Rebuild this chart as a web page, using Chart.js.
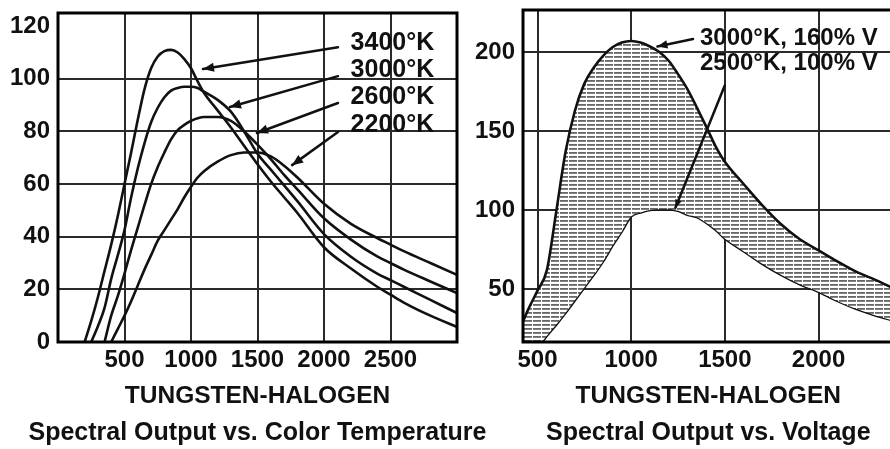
<!DOCTYPE html>
<html><head><meta charset="utf-8">
<script src="https://cdn.jsdelivr.net/npm/chart.js@4.4.1/dist/chart.umd.min.js"></script>
<style>
html,body{margin:0;padding:0;background:#fff;overflow:hidden;width:890px;height:449px;}
#wrapL{position:absolute;left:0;top:0;width:500px;height:449px;}
#wrapR{position:absolute;left:470px;top:0;width:430px;height:449px;}
</style></head><body>
<div id="wrapL"><canvas id="left" width="500" height="449"></canvas></div>
<div id="wrapR"><canvas id="right" width="430" height="449"></canvas></div>
<script>
// ---------- LEFT: Spectral Output vs. Color Temperature ----------
const WL_LEFT = [200,250,300,350,400,450,500,550,600,650,700,750,800,850,900,950,1000,1050,1100,1200,1300,1400,1500,1600,1700,1800,2000,2200,2400,2500,2600,2800,3000];
const K3400 = [0,8,17,27,37,48,60,72,84.5,96,104,108.5,110.5,111,110,107.5,104,99,94.5,88,81.5,74.5,67.5,61,55,49,36,28,21,18,15,10,5.7];
const K3000 = [null,0,6,13,24,33,42.5,55,66,75.5,83.5,89,93,95.5,96.5,97,97,96.5,95,92,87.5,80,71.5,65.5,59.5,53.5,41,32.5,26,23.5,21,16,11];
const K2600 = [null,null,null,0,10,17.5,26,35,43.5,52,60,66.5,72,77,80.5,82.5,84,85,85.5,85.5,84,80,75,69.5,63.5,58,47,39,32.5,30,27.5,23,18.6];
const K2200 = [null,null,null,null,0,5,10,15.5,21.5,27.5,33,38.5,42.5,46.5,50.5,55,59,62.5,65,68.5,71,72,72,70.5,67,62.5,52.5,45,39.5,37,34.5,30,25.5];
const LEFT_LABELS = ['3400°K','3000°K','2600°K','2200°K'];
const X_TICKS_LEFT = [500,1000,1500,2000,2500];
const Y_TICKS_LEFT = [0,20,40,60,80,100,120];
const LEFT_TITLE = ['TUNGSTEN-HALOGEN','Spectral Output vs. Color Temperature'];

// ---------- RIGHT: Spectral Output vs. Voltage ----------
const WL_RIGHT = [400,450,500,550,600,650,700,750,800,850,900,950,1000,1050,1100,1150,1200,1250,1300,1350,1400,1450,1500,1600,1700,1800,1900,2000,2100,2200,2300,2400];
const V_HIGH = [23,37,49,62,99,137,163,180,190,197.5,203,206,207,206,203.5,200,194.5,186,176.5,165,153,140.5,130.5,116.5,103,91,81.5,74.5,67.5,61,56,50.5];
const V_LOW  = [3,8,13,20.5,27.5,35,43,51,59,67.5,77.5,86.5,96,98.5,100,100.5,100.5,99.5,97,95.5,92,87.5,82,74,66,59,53,48.3,42.5,37.5,33.5,30];
const RIGHT_LABELS = ['3000°K, 160% V','2500°K, 100% V'];
const X_TICKS_RIGHT = [500,1000,1500,2000];
const Y_TICKS_RIGHT = [50,100,150,200];
const RIGHT_TITLE = ['TUNGSTEN-HALOGEN','Spectral Output vs. Voltage'];

Chart.defaults.font.family = "'Liberation Sans', Arial, sans-serif";
Chart.defaults.font.weight = 'bold';
Chart.defaults.font.size = 24;
Chart.defaults.color = '#111';

function pt(chart, wl, v){ return [chart.scales.x.getPixelForValue(wl), chart.scales.y.getPixelForValue(v)]; }

const notes = {
  id: 'notes',
  beforeDatasetsDraw(chart, a, o) {
    const ctx = chart.ctx, ca = chart.chartArea;
    ctx.save();
    ctx.beginPath(); ctx.rect(ca.left, ca.top, ca.width, ca.height); ctx.clip();
    ctx.fillStyle = '#fff';
    for (const b of (o.boxes || [])) {
      const [x0, y0] = pt(chart, b[0], b[1]); const [x1, y1] = pt(chart, b[2], b[3]);
      ctx.fillRect(Math.min(x0, x1), Math.min(y0, y1), Math.abs(x1 - x0), Math.abs(y1 - y0));
    }
    ctx.restore();
  },
  afterDatasetsDraw(chart, a, o) {
    const ctx = chart.ctx, ca = chart.chartArea;
    ctx.save();
    ctx.strokeStyle = '#111'; ctx.fillStyle = '#111'; ctx.lineWidth = 2.5; ctx.lineCap = 'round';
    for (const ar of (o.arrows || [])) {
      const [x0, y0] = pt(chart, ar.from[0], ar.from[1]); const [x1, y1] = pt(chart, ar.to[0], ar.to[1]);
      ctx.beginPath(); ctx.moveTo(x0, y0); ctx.lineTo(x1, y1); ctx.stroke();
      if (ar.head) {
        const ang = Math.atan2(y1 - y0, x1 - x0), L = ar.head, W = ar.head * 0.42;
        const bx = x1 - L * Math.cos(ang), by = y1 - L * Math.sin(ang);
        ctx.beginPath(); ctx.moveTo(x1, y1);
        ctx.lineTo(bx + W * Math.sin(ang), by - W * Math.cos(ang));
        ctx.lineTo(bx - W * Math.sin(ang), by + W * Math.cos(ang));
        ctx.closePath(); ctx.fill();
      }
    }
    ctx.font = o.font; ctx.textBaseline = 'middle'; ctx.textAlign = 'left';
    (o.labels || []).forEach((t, i) => { const [x, y] = pt(chart, t[0], t[1]); ctx.fillText(o.texts[i], x, y); });
    ctx.lineWidth = 3; ctx.strokeStyle = '#000';
    ctx.strokeRect(ca.left, ca.top, ca.right - ca.left, ca.bottom - ca.top);
    ctx.restore();
  },
  afterDraw(chart, a, o) {
    const ctx = chart.ctx, ca = chart.chartArea;
    const cx = (ca.left + ca.right) / 2;
    ctx.save();
    ctx.fillStyle = '#111'; ctx.textAlign = 'center'; ctx.textBaseline = 'middle';
    (o.title || []).forEach((t, i) => {
      ctx.font = o.titleFonts[i];
      ctx.fillText(t, cx, ca.bottom + o.titleOffsets[i]);
    });
    ctx.restore();
  }
};

function lineDs(label, xs, ys, extra) {
  return Object.assign({
    label, data: xs.map((x, i) => ({x, y: ys[i]})),
    borderColor: '#111', borderWidth: 2.6, pointRadius: 0, fill: false,
    cubicInterpolationMode: 'monotone', spanGaps: false
  }, extra || {});
}

function axes(xmin, xmax, xt, ymin, ymax, yt, yw, hide) {
  const tickFont = {size: 24, weight: 'bold'};
  return {
    x: {type: 'linear', min: xmin, max: xmax,
        afterBuildTicks: s => { s.ticks = xt.map(v => ({value: v})); },
        afterFit: s => { s.height = 32; s.paddingLeft = 0; s.paddingRight = 0; },
        grid: {color: '#2a2a2a', lineWidth: 2, drawTicks: false}, border: {display: false},
        ticks: {padding: 4, font: tickFont, color: '#111', maxRotation: 0, autoSkip: false, callback: v => String(v)}},
    y: {type: 'linear', min: ymin, max: ymax,
        afterBuildTicks: s => { s.ticks = yt.map(v => ({value: v})); },
        afterFit: s => { s.width = yw; s.paddingTop = 0; s.paddingBottom = 0; },
        grid: {color: c => (c.tick && c.tick.value === hide) ? 'rgba(0,0,0,0)' : '#2a2a2a', lineWidth: 2, drawTicks: false},
        border: {display: false},
        ticks: {padding: 8, font: tickFont, color: '#111', callback: v => String(v)}}
  };
}

const TITLE_FONTS = ["bold 24.5px 'Liberation Sans', Arial, sans-serif", "bold 25px 'Liberation Sans', Arial, sans-serif"];

new Chart(document.getElementById('left'), {
  type: 'line',
  data: {datasets: [
    lineDs(LEFT_LABELS[0], WL_LEFT, K3400),
    lineDs(LEFT_LABELS[1], WL_LEFT, K3000),
    lineDs(LEFT_LABELS[2], WL_LEFT, K2600),
    lineDs(LEFT_LABELS[3], WL_LEFT, K2200)
  ]},
  options: {
    responsive: false, animation: false, events: [],
    layout: {padding: {top: 13, right: 43, left: 0, bottom: 75}},
    scales: axes(0, 3000, X_TICKS_LEFT, 0, 125, Y_TICKS_LEFT, 58, 120),
    plugins: {
      legend: {display: false}, tooltip: {enabled: false}, title: {display: false},
      notes: {
        font: "bold 25px 'Liberation Sans', Arial, sans-serif",
        texts: LEFT_LABELS,
        labels: [[2200, 113.6], [2200, 103.3], [2200, 93], [2200, 82.4]],
        boxes: [[2120, 120], [2915, 75]],
        arrows: [
          {from: [2105, 112], to: [1090, 103.7], head: 11},
          {from: [2105, 101], to: [1293, 89.3], head: 11},
          {from: [2105, 90.8], to: [1496, 79.4], head: 11},
          {from: [2105, 79.8], to: [1760, 67.2], head: 11}
        ],
        title: LEFT_TITLE, titleFonts: TITLE_FONTS, titleOffsets: [54, 91]
      }
    }
  },
  plugins: [notes]
});

const rc = document.getElementById('right');
const pc = document.createElement('canvas'); pc.width = 9; pc.height = 4;
const pg = pc.getContext('2d');
pg.fillStyle = '#ffffff'; pg.fillRect(0, 0, 9, 4);
pg.fillStyle = '#666666'; pg.fillRect(0, 0, 8, 1.8);
const hatch = rc.getContext('2d').createPattern(pc, 'repeat');

new Chart(rc, {
  type: 'line',
  data: {datasets: [
    lineDs(RIGHT_LABELS[0], WL_RIGHT, V_HIGH, {fill: '+1', backgroundColor: hatch}),
    lineDs(RIGHT_LABELS[1], WL_RIGHT, V_LOW)
  ]},
  options: {
    responsive: false, animation: false, events: [],
    layout: {padding: {top: 10, right: 6.5, left: 0, bottom: 75}},
    scales: axes(422.6, 2400, X_TICKS_RIGHT, 16.5, 226.6, Y_TICKS_RIGHT, 53, null),
    plugins: {
      legend: {display: false}, tooltip: {enabled: false}, title: {display: false},
      notes: {
        font: "bold 24px 'Liberation Sans', Arial, sans-serif",
        texts: RIGHT_LABELS,
        labels: [[1367, 208.9], [1367, 193]],
        boxes: [[1310, 224], [2400, 179]],
        arrows: [
          {from: [1330, 208.2], to: [1140, 203.5], head: 10},
          {from: [1500, 179], to: [1236, 101.5], head: 8}
        ],
        title: RIGHT_TITLE, titleFonts: TITLE_FONTS, titleOffsets: [54, 91]
      }
    }
  },
  plugins: [notes]
});
</script></body></html>
